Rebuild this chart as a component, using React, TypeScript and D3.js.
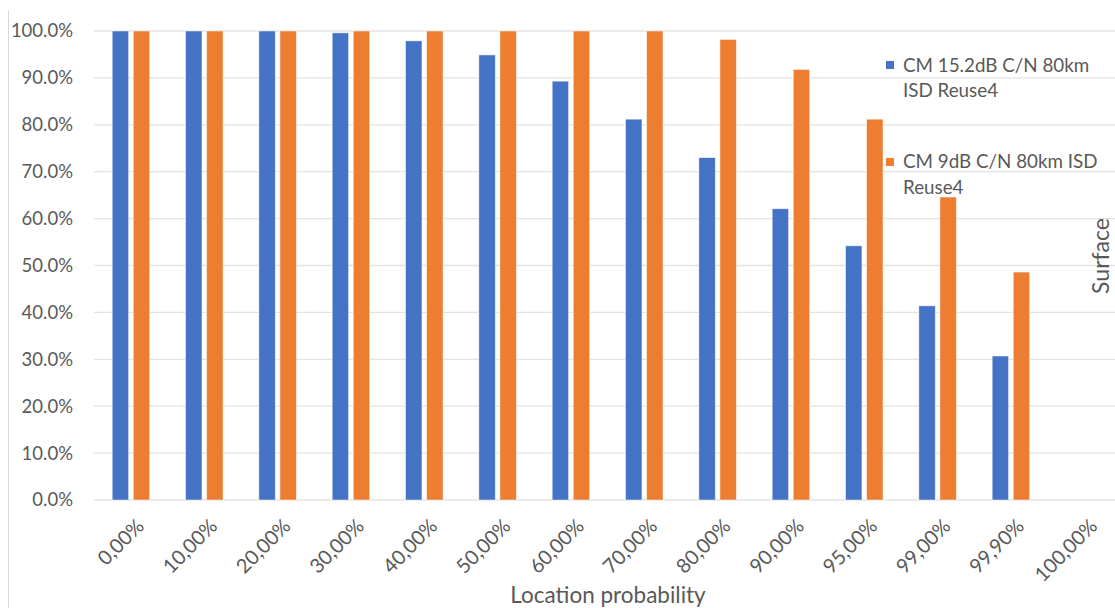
import React from "react";
import * as d3 from "d3";

const categories = ["0,00%", "10,00%", "20,00%", "30,00%", "40,00%", "50,00%", "60,00%", "70,00%", "80,00%", "90,00%", "95,00%", "99,00%", "99,90%", "100,00%"];
const seriesNames = ["CM 15.2dB C/N 80km ISD Reuse4", "CM 9dB C/N 80km ISD Reuse4"];
const blueValues: (number | null)[] = [100, 100, 100, 99.6, 97.9, 94.9, 89.3, 81.2, 73.0, 62.1, 54.2, 41.4, 30.7, null];
const orangeValues: (number | null)[] = [100, 100, 100, 100, 100, 100, 100, 100, 98.2, 91.8, 81.2, 64.6, 48.6, null];
const yTicks = [0, 10, 20, 30, 40, 50, 60, 70, 80, 90, 100];
const colors = ["#4472C4", "#ED7D31"];

const W = 1115, H = 608;
const FONT = "Lato, 'Open Sans', sans-serif";
const TXT = "#595959";

export default function App() {
  const x0 = d3.scaleBand<string>().domain(categories).range([94.3, 94.3 + 14 * 73.33]).paddingInner(0).paddingOuter(0);
  const groupW = 37.5;
  const x1 = d3.scaleBand<string>().domain(["0", "1"]).range([0, groupW]).paddingInner(0.22);
  const y = d3.scaleLinear().domain([0, 100]).range([500, 31]);
  const series = [blueValues, orangeValues];
  const off = (x0.bandwidth() - groupW) / 2;

  return (
    <svg width={W} height={H} style={{ position: "absolute", left: 0, top: 0, background: "#fff" }} fontFamily={FONT}>
      <rect x={0} y={0} width={W} height={H} fill="#fff" />
      <line x1={8.5} x2={8.5} y1={10} y2={H} stroke="#d9d9d9" strokeWidth={1} />
      {yTicks.map((t) => (
        <g key={t}>
          <line x1={94} x2={W} y1={y(t)} y2={y(t)} stroke="#e3e3e3" strokeWidth={1.3} />
          <text x={73} y={y(t)} dy="0.35em" textAnchor="end" fontSize={18.5} fill={TXT}>
            {d3.format(".1f")(t) + "%"}
          </text>
        </g>
      ))}
      {series.map((vals, si) =>
        vals.map((v, i) =>
          v == null ? null : (
            <rect
              key={si + "-" + i}
              x={(x0(categories[i]) as number) + off + (x1(String(si)) as number)}
              y={y(v)}
              width={x1.bandwidth()}
              height={y(0) - y(v)}
              fill={colors[si]}
              stroke="#fff"
              strokeOpacity={0.6}
              strokeWidth={0.8}
            />
          )
        )
      )}
      {categories.map((c) => {
        const cx = (x0(c) as number) + x0.bandwidth() / 2;
        return (
          <text
            key={c}
            transform={`translate(${cx + 3},${516}) rotate(-45)`}
            textAnchor="end"
            dominantBaseline="hanging"
            fontSize={20}
            fill={TXT}
          >
            {c}
          </text>
        );
      })}
      <text x={608} y={603} textAnchor="middle" fontSize={22.5} fill={TXT}>
        Location probability
      </text>
      <text transform={`translate(1109,256) rotate(-90)`} textAnchor="middle" fontSize={23} fill={TXT}>
        Surface
      </text>
      {/* legend */}
      <rect x={886} y={61} width={8} height={8} fill={colors[0]} />
      <text x={903} y={72} fontSize={18.8} fill={TXT}>CM 15.2dB C/N 80km</text>
      <text x={903} y={97} fontSize={18.8} fill={TXT}>ISD Reuse4</text>
      <rect x={886} y={158} width={8} height={8} fill={colors[1]} />
      <text x={903} y={168} fontSize={18.8} fill={TXT}>CM 9dB C/N 80km ISD</text>
      <text x={903} y={194} fontSize={18.8} fill={TXT}>Reuse4</text>
    </svg>
  );
}
